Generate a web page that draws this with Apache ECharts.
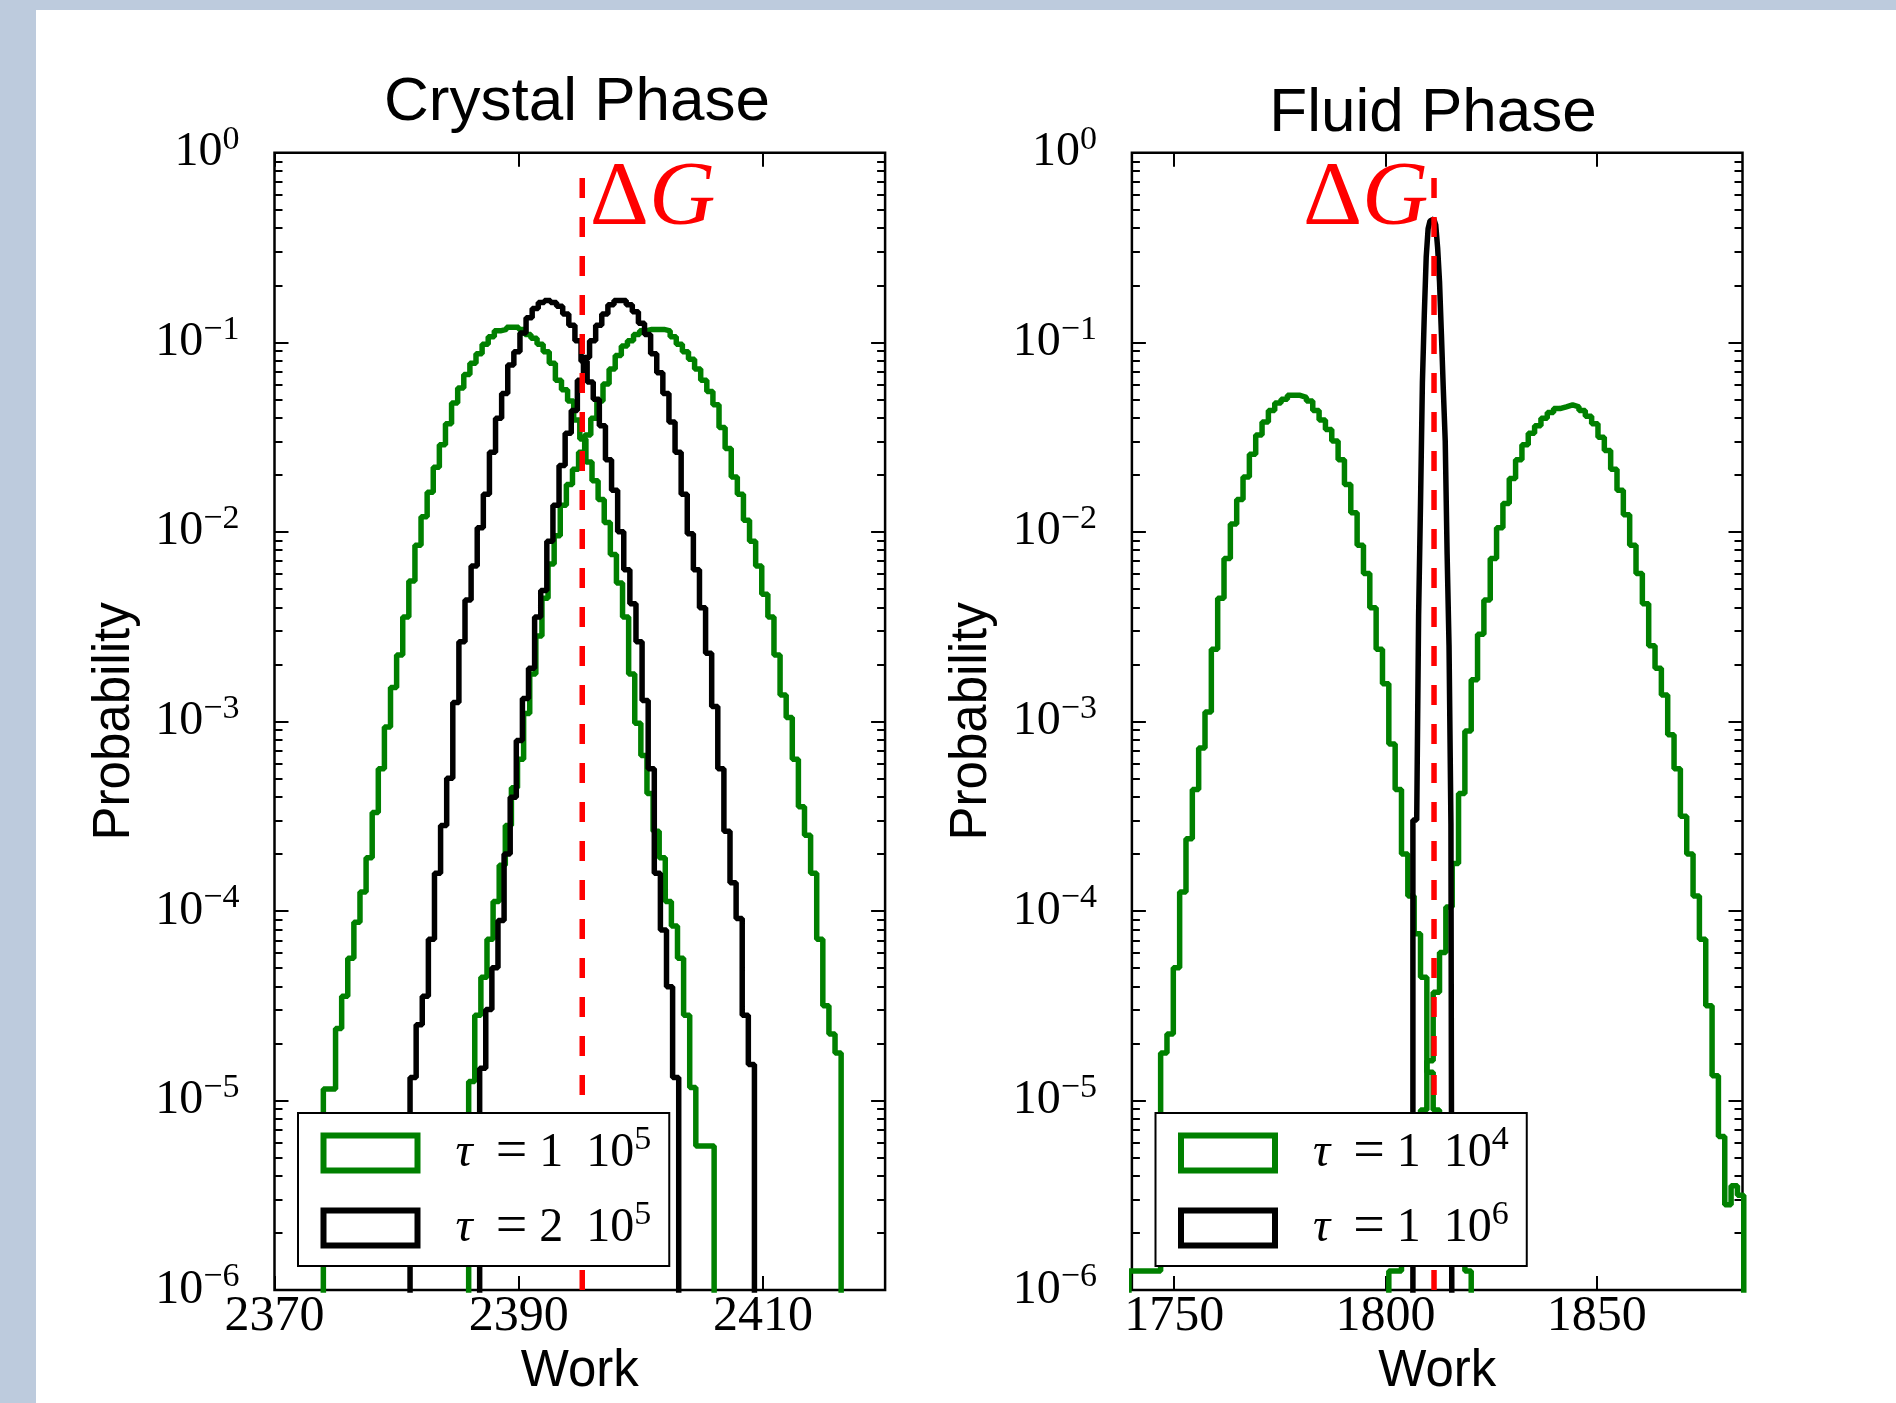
<!DOCTYPE html>
<html>
<head>
<meta charset="utf-8">
<title>Work distributions</title>
<script src="https://cdn.jsdelivr.net/npm/echarts@6/dist/echarts.min.js"></script>
<style>
  html, body { margin: 0; padding: 0; background: #ffffff; }
  #chart { width: 1896px; height: 1403px; }
</style>
</head>
<body>
<div id="chart"></div>
<script>
// Free-energy estimates (position of the dashed markers)
const crystalDeltaG = 2395.2;
const fluidDeltaG = 1811.5;

// Axis ranges and tick labels
const crystalRange = [2370, 2420];
const fluidRange = [1740, 1884.5];
const crystalTicksX = [2370, 2390, 2410];
const fluidTicksX = [1750, 1800, 1850];
const probTicks = [1e-6, 1e-5, 1e-4, 1e-3, 1e-2, 1e-1, 1];

// Legend entries
const crystalNames = ['τ = 1 10^5', 'τ = 2 10^5'];
const fluidNames = ['τ = 1 10^4', 'τ = 1 10^6'];

// ---- Crystal phase histograms (left bin edge, bin width, probability per bin) ----
// tau = 1e5, forward work
const crystalGreenAStart = 2374.0, crystalGreenAWidth = 0.5;
const crystalGreenA = [
  1.15e-5, 1.15e-5, 2.40e-5, 3.55e-5, 5.62e-5, 8.71e-5, 1.26e-4, 1.91e-4, 3.31e-4, 5.62e-4,
  9.33e-4, 1.51e-3, 2.24e-3, 3.55e-3, 5.50e-3, 8.51e-3, 1.20e-2, 1.62e-2, 2.19e-2, 2.88e-2,
  3.72e-2, 4.79e-2, 5.75e-2, 6.76e-2, 7.76e-2, 8.71e-2, 9.77e-2, 0.107, 0.115, 0.117,
  0.120, 0.120, 0.117, 0.110, 0.105, 0.0977, 0.0891, 0.0776, 0.0631, 0.0562,
  0.0490, 0.0389, 0.0309, 0.0234, 0.0186, 0.0148, 0.0112, 7.59e-3, 5.37e-3, 3.55e-3,
  1.78e-3, 9.77e-4, 6.61e-4, 4.17e-4, 2.63e-4, 1.91e-4, 1.12e-4, 8.32e-5, 5.62e-5, 2.82e-5,
  1.17e-5, 5.75e-6, 5.75e-6, 5.75e-6
];
// tau = 1e5, reverse work
const crystalGreenBStart = 2385.9, crystalGreenBWidth = 0.5;
const crystalGreenB = [
  1.26e-5, 2.82e-5, 4.47e-5, 7.08e-5, 1.12e-4, 1.74e-4, 2.82e-4, 4.47e-4, 6.31e-4, 1.10e-3,
  1.78e-3, 2.82e-3, 4.47e-3, 6.76e-3, 9.55e-3, 1.38e-2, 1.78e-2, 2.14e-2, 2.63e-2, 3.24e-2,
  3.98e-2, 4.90e-2, 6.03e-2, 7.24e-2, 8.51e-2, 9.55e-2, 0.102, 0.110, 0.115, 0.117,
  0.117, 0.117, 0.115, 0.107, 0.0977, 0.0891, 0.0813, 0.0724, 0.0631, 0.0550,
  0.0468, 0.0355, 0.0275, 0.0195, 0.0158, 0.0115, 8.91e-3, 6.61e-3, 4.68e-3, 3.55e-3,
  2.24e-3, 1.38e-3, 1.05e-3, 6.31e-4, 3.55e-4, 2.51e-4, 1.58e-4, 7.08e-5, 3.16e-5, 2.24e-5,
  1.78e-5
];
// tau = 2e5, forward work
const crystalBlackAStart = 2381.1, crystalBlackAWidth = 0.5;
const crystalBlackA = [
  1.32e-5, 2.51e-5, 3.55e-5, 7.08e-5, 1.58e-4, 2.82e-4, 5.01e-4, 1.26e-3, 2.63e-3, 4.37e-3,
  6.61e-3, 1.05e-2, 1.58e-2, 2.63e-2, 3.98e-2, 5.37e-2, 7.59e-2, 8.91e-2, 0.112, 0.135,
  0.151, 0.162, 0.166, 0.162, 0.155, 0.141, 0.123, 0.102, 0.0794, 0.0617,
  0.0501, 0.0363, 0.0240, 0.0166, 0.0100, 6.31e-3, 4.17e-3, 2.63e-3, 1.29e-3, 5.62e-4,
  1.58e-4, 7.94e-5, 3.98e-5, 1.32e-5
];
// tau = 2e5, reverse work
const crystalBlackBStart = 2386.8, crystalBlackBWidth = 0.5;
const crystalBlackB = [
  1.48e-5, 3.02e-5, 5.01e-5, 8.91e-5, 2.00e-4, 3.98e-4, 7.94e-4, 1.32e-3, 1.91e-3, 3.55e-3,
  4.90e-3, 8.91e-3, 1.38e-2, 2.24e-2, 3.31e-2, 4.37e-2, 6.31e-2, 8.32e-2, 0.102, 0.123,
  0.141, 0.158, 0.166, 0.166, 0.158, 0.145, 0.126, 0.110, 0.0871, 0.0692,
  0.0537, 0.0380, 0.0263, 0.0158, 9.77e-3, 6.31e-3, 3.98e-3, 2.29e-3, 1.20e-3, 5.62e-4,
  2.63e-4, 1.41e-4, 9.12e-5, 2.82e-5, 1.55e-5
];

// ---- Fluid phase histograms ----
// tau = 1e4, forward work
const fluidGreenAStart = 1739.3, fluidGreenAWidth = 1.5;
const fluidGreenA = [
  1.26e-6, 1.26e-6, 1.26e-6, 1.26e-6, 1.26e-6, 1.78e-5, 2.24e-5, 5.01e-5, 1.26e-4, 2.40e-4,
  4.37e-4, 7.24e-4, 1.12e-3, 2.40e-3, 4.47e-3, 7.24e-3, 1.10e-2, 1.48e-2, 1.95e-2, 2.57e-2,
  3.24e-2, 3.80e-2, 4.37e-2, 4.79e-2, 5.01e-2, 5.25e-2, 5.25e-2, 5.13e-2, 4.90e-2, 4.37e-2,
  3.89e-2, 3.47e-2, 3.02e-2, 2.40e-2, 1.78e-2, 1.26e-2, 8.51e-3, 6.03e-3, 3.98e-3, 2.40e-3,
  1.58e-3, 7.59e-4, 4.37e-4, 2.00e-4, 1.20e-4, 7.59e-5, 4.47e-5, 1.41e-5, 8.91e-6, 5.62e-6,
  3.55e-6, 2.51e-6, 1.78e-6, 1.26e-6
];
// tau = 1e4, reverse work
const fluidGreenBStart = 1800.8, fluidGreenBWidth = 1.5;
const fluidGreenB = [
  1.26e-6, 1.26e-6, 2.00e-6, 3.16e-6, 5.01e-6, 8.91e-6, 1.62e-5, 3.72e-5, 6.03e-5, 1.05e-4,
  1.78e-4, 4.17e-4, 8.91e-4, 1.66e-3, 2.88e-3, 4.37e-3, 7.24e-3, 1.05e-2, 1.41e-2, 1.91e-2,
  2.40e-2, 2.88e-2, 3.31e-2, 3.63e-2, 3.98e-2, 4.27e-2, 4.47e-2, 4.57e-2, 4.68e-2, 4.57e-2,
  4.37e-2, 4.07e-2, 3.72e-2, 3.16e-2, 2.69e-2, 2.14e-2, 1.66e-2, 1.23e-2, 8.51e-3, 6.03e-3,
  4.17e-3, 2.51e-3, 1.91e-3, 1.38e-3, 8.51e-4, 5.62e-4, 3.16e-4, 2.00e-4, 1.20e-4, 7.08e-5,
  3.16e-5, 1.35e-5, 6.46e-6, 2.82e-6, 3.55e-6, 3.16e-6
];
// tau = 1e6 (forward and reverse coincide)
const fluidBlackStart = 1806.5, fluidBlackWidth = 0.45;
const fluidBlack = [
  3.02e-4, 3.02e-4, 3.02e-4, 3.63e-3, 1.41e-2, 6.17e-2, 0.141, 0.282, 0.398, 0.437,
  0.447, 0.437, 0.417, 0.316, 0.209, 0.110, 0.0562, 0.0302, 7.59e-3, 2.51e-3,
  2.88e-4
];

const GREEN = '#008000';
const BLACK = '#000000';
const RED = '#ff0000';
const SERIF = '"Liberation Serif", "DejaVu Serif", serif';
const SANS = '"Liberation Sans", Arial, sans-serif';
const FLOOR = 1e-9;      // empty bins: the outline drops below the frame
const DASH_TOP = 0.82;   // upper end of the dashed free-energy marker

// Outline of a step histogram: rise at the first edge, fall after the last bin.
function stepData(start, width, probs) {
  const pts = [[start, FLOOR]];
  probs.forEach((p, i) => pts.push([+(start + i * width).toFixed(3), p]));
  pts.push([+(start + probs.length * width).toFixed(3), FLOOR]);
  return pts;
}

function hist(name, color, grid, start, width, probs) {
  return {
    name, type: 'line', xAxisIndex: grid * 2, yAxisIndex: grid * 4,
    step: 'end', symbol: 'none', clip: true,
    data: stepData(start, width, probs),
    lineStyle: { color, width: 5.5 },
    itemStyle: { color },
    emphasis: { disabled: true },
    z: 2
  };
}

function deltaG(grid, x, side) {
  return {
    name: 'ΔG', type: 'line', xAxisIndex: grid * 2, yAxisIndex: grid * 4,
    symbol: 'none', clip: true,
    data: [[x, probTicks[0]], [x, DASH_TOP]],
    lineStyle: { color: RED, width: 5.5, type: [20, 19] },
    emphasis: { disabled: true },
    z: 3,
    markPoint: {
      symbol: 'circle', symbolSize: 1,
      itemStyle: { color: 'rgba(0,0,0,0)' },
      emphasis: { disabled: true },
      data: [{ coord: [x, DASH_TOP] }],
      label: {
        show: true, position: side, distance: side === 'right' ? 7 : 5, offset: [0, 31],
        formatter: '{d|Δ}{g|G}',
        rich: {
          d: { fontFamily: SERIF, fontSize: 92, lineHeight: 92, color: RED },
          g: { fontFamily: SERIF, fontStyle: 'italic', fontSize: 92, lineHeight: 92, color: RED }
        }
      }
    }
  };
}

// Minor tick positions on the log axis (2..9 in every decade)
const minorTicks = [];
for (let e = -6; e < 0; e++) {
  for (let k = 2; k <= 9; k++) minorTicks.push(+(k * Math.pow(10, e)).toPrecision(3));
}

function powerLabel(v) {
  const e = Math.round(Math.log10(v));
  return '{b|10}{s|' + (e < 0 ? '\u2212' + (-e) : e) + '}';
}

const supRich = {
  b: { fontFamily: SERIF, fontSize: 48, lineHeight: 48, color: '#000' },
  s: { fontFamily: SERIF, fontSize: 34, lineHeight: 34, padding: [0, 0, 25, 0], color: '#000' }
};

function xAxes(grid, range, ticks) {
  const common = {
    gridIndex: grid, type: 'value', min: range[0], max: range[1],
    axisLine: { show: false, onZero: false }, splitLine: { show: false }
  };
  return [
    Object.assign({}, common, {
      position: 'bottom',
      axisTick: { inside: true, length: 14, customValues: ticks, lineStyle: { color: '#000', width: 2 } },
      axisLabel: { customValues: ticks, formatter: v => String(v), margin: 2, fontFamily: SERIF, fontSize: 50, color: '#000' },
      name: 'Work', nameLocation: 'middle', nameGap: 50,
      nameTextStyle: { fontFamily: SANS, fontSize: 51, color: '#000' }
    }),
    Object.assign({}, common, {
      position: 'top',
      axisTick: { inside: true, length: 14, customValues: ticks, lineStyle: { color: '#000', width: 2 } },
      axisLabel: { show: false }
    })
  ];
}

function yAxes(grid) {
  const common = {
    gridIndex: grid, type: 'log', logBase: 10, min: probTicks[0], max: probTicks[probTicks.length - 1],
    axisLine: { show: false, onZero: false }, splitLine: { show: false }
  };
  const major = { inside: true, length: 14, customValues: probTicks, lineStyle: { color: '#000', width: 2 } };
  const minor = { inside: true, length: 8, customValues: minorTicks, lineStyle: { color: '#000', width: 2 } };
  return [
    Object.assign({}, common, {
      position: 'left', axisTick: major,
      axisLabel: { customValues: probTicks, formatter: powerLabel, margin: 35, rich: supRich },
      name: 'Probability', nameLocation: 'middle', nameGap: 134,
      nameTextStyle: { fontFamily: SANS, fontSize: 51, color: '#000' }
    }),
    Object.assign({}, common, { position: 'left', axisTick: minor, axisLabel: { show: false } }),
    Object.assign({}, common, { position: 'right', axisTick: major, axisLabel: { show: false } }),
    Object.assign({}, common, { position: 'right', axisTick: minor, axisLabel: { show: false } })
  ];
}

function legendLabel(name) {
  const m = name.match(/(\d) 10\^(\d)/);
  return '{t|τ}{eq|=}{n|' + m[1] + '}{b|10}{s|' + m[2] + '}';
}

function legendBox(left, names) {
  return {
    left, top: 1113, orient: 'vertical', icon: 'rect', z: 10,
    itemWidth: 94, itemHeight: 35, itemGap: 16,
    padding: [10.5, 18, 8.5, 22.5],
    backgroundColor: '#fff', borderColor: '#000', borderWidth: 2, borderRadius: 0,
    selectedMode: false,
    data: [
      { name: names[0], itemStyle: { color: '#fff', borderColor: GREEN, borderWidth: 6 } },
      { name: names[1], itemStyle: { color: '#fff', borderColor: BLACK, borderWidth: 6 } }
    ],
    formatter: legendLabel,
    textStyle: {
      color: '#000', fontFamily: SERIF, fontSize: 48,
      rich: {
        t: { fontFamily: SERIF, fontStyle: 'italic', fontSize: 48, lineHeight: 48, padding: [0, 0, 0, 33] },
        eq: { fontFamily: SERIF, fontSize: 56, lineHeight: 48, padding: [0, 12, 0, 23] },
        n: { fontFamily: SERIF, fontSize: 48, lineHeight: 48, padding: [0, 23, 0, 0] },
        b: { fontFamily: SERIF, fontSize: 48, lineHeight: 48 },
        s: { fontFamily: SERIF, fontSize: 34, lineHeight: 34, padding: [0, 0, 25, 0] }
      }
    }
  };
}

const gridBox = { top: 152.8, height: 1137.2, width: 610.6, show: true, borderColor: '#000', borderWidth: 2.5, backgroundColor: 'transparent' };

const option = {
  animation: false,
  backgroundColor: '#ffffff',
  grid: [
    Object.assign({ left: 274.5 }, gridBox),
    Object.assign({ left: 1131.9 }, gridBox)
  ],
  xAxis: [].concat(xAxes(0, crystalRange, crystalTicksX), xAxes(1, fluidRange, fluidTicksX)),
  yAxis: [].concat(yAxes(0), yAxes(1)),
  legend: [legendBox(298, crystalNames), legendBox(1155.5, fluidNames)],
  series: [
    hist(crystalNames[0], GREEN, 0, crystalGreenAStart, crystalGreenAWidth, crystalGreenA),
    hist(crystalNames[0], GREEN, 0, crystalGreenBStart, crystalGreenBWidth, crystalGreenB),
    hist(crystalNames[1], BLACK, 0, crystalBlackAStart, crystalBlackAWidth, crystalBlackA),
    hist(crystalNames[1], BLACK, 0, crystalBlackBStart, crystalBlackBWidth, crystalBlackB),
    deltaG(0, crystalDeltaG, 'right'),
    hist(fluidNames[0], GREEN, 1, fluidGreenAStart, fluidGreenAWidth, fluidGreenA),
    hist(fluidNames[0], GREEN, 1, fluidGreenBStart, fluidGreenBWidth, fluidGreenB),
    hist(fluidNames[1], BLACK, 1, fluidBlackStart, fluidBlackWidth, fluidBlack),
    deltaG(1, fluidDeltaG, 'left')
  ],
  graphic: [
    { type: 'rect', silent: true, shape: { x: 0, y: 0, width: 1896, height: 10 }, style: { fill: '#bdcbdd' } },
    { type: 'rect', silent: true, shape: { x: 0, y: 0, width: 36, height: 1403 }, style: { fill: '#bdcbdd' } },
    { type: 'text', silent: true, x: 577, y: 103,
      style: { text: 'Crystal Phase', fontFamily: SANS, fontSize: 62, fill: '#000', align: 'center', verticalAlign: 'middle' } },
    { type: 'text', silent: true, x: 1433, y: 114,
      style: { text: 'Fluid Phase', fontFamily: SANS, fontSize: 62, fill: '#000', align: 'center', verticalAlign: 'middle' } }
  ]
};

const chart = echarts.init(document.getElementById('chart'), null, { renderer: 'canvas' });
chart.setOption(option);
</script>
</body>
</html>
